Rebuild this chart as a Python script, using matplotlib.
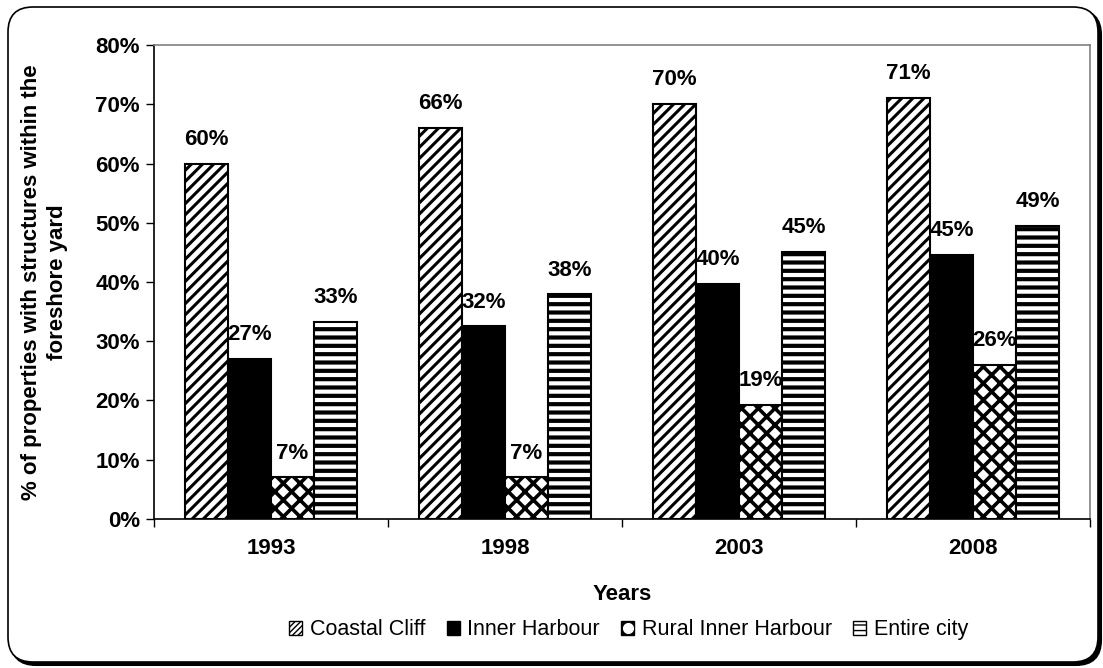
import numpy as np
import matplotlib
matplotlib.use("Agg")
import matplotlib.pyplot as plt
from matplotlib.patches import FancyBboxPatch, Patch
from matplotlib.lines import Line2D

plt.rcParams['font.family'] = ['Liberation Sans', 'DejaVu Sans']

# --- data ---
years = ["1993", "1998", "2003", "2008"]
coastal_cliff = [60, 66, 70, 71]
inner_harbour = [27, 32.5, 39.7, 44.6]
rural_inner = [7, 7, 19.2, 26]
entire_city = [33.2, 37.9, 45, 49.4]
label_cc = ["60%", "66%", "70%", "71%"]
label_ih = ["27%", "32%", "40%", "45%"]
label_ri = ["7%", "7%", "19%", "26%"]
label_ec = ["33%", "38%", "45%", "49%"]
series_names = ["Coastal Cliff", "Inner Harbour", "Rural Inner Harbour", "Entire city"]

W, H = 11.03, 6.68
fig = plt.figure(figsize=(W, H), dpi=100)

# outer rounded frame with shadow (in inches so corners stay round)
shadow = FancyBboxPatch((0.11, 0.03), 10.9, 6.55, boxstyle="round,pad=0,rounding_size=0.25",
                        transform=fig.dpi_scale_trans, facecolor="black", edgecolor="black",
                        linewidth=1.5, zorder=-2)
frame = FancyBboxPatch((0.08, 0.06), 10.9, 6.55, boxstyle="round,pad=0,rounding_size=0.25",
                       transform=fig.dpi_scale_trans, facecolor="white", edgecolor="black",
                       linewidth=1.2, zorder=-1)
fig.patches.extend([shadow, frame])

ax = fig.add_axes([0.1396, 0.2231, 0.8486, 0.7095])
ax.set_zorder(1)
ax.set_facecolor("none")

x = np.arange(len(years))
bw = 0.184
fs = 16

with plt.rc_context({'hatch.linewidth': 2.2}):
    b1 = ax.bar(x - 1.5 * bw, coastal_cliff, bw, facecolor="white", edgecolor="black",
                hatch="///", linewidth=1.5, zorder=3)
b2 = ax.bar(x - 0.5 * bw, inner_harbour, bw, facecolor="black", edgecolor="black",
            linewidth=1.5, zorder=3)
with plt.rc_context({'hatch.linewidth': 2.6}):
    b3 = ax.bar(x + 0.5 * bw, rural_inner, bw, facecolor="white", edgecolor="black",
                hatch="xx", linewidth=1.5, zorder=3)
with plt.rc_context({'hatch.linewidth': 3.0}):
    b4 = ax.bar(x + 1.5 * bw, entire_city, bw, facecolor="white", edgecolor="black",
                hatch="--", linewidth=1.5, zorder=3)

for bars, labels in [(b1, label_cc), (b2, label_ih), (b3, label_ri), (b4, label_ec)]:
    for rect, lab in zip(bars, labels):
        ax.annotate(lab, (rect.get_x() + rect.get_width() / 2, rect.get_height()),
                    xytext=(0, 10), textcoords="offset points", ha="center", va="bottom",
                    fontsize=fs, fontweight="bold")

ax.set_xlim(-0.5, 3.5)
ax.set_ylim(0, 80)
ax.set_yticks(np.arange(0, 81, 10))
ax.set_yticklabels([f"{v}%" for v in range(0, 81, 10)], fontsize=fs, fontweight="bold")
ax.set_xticks(x)
ax.set_xticklabels(years, fontsize=fs, fontweight="bold")
ax.set_xticks(np.arange(-0.5, 3.6, 1), minor=True)
ax.tick_params(axis="x", which="major", length=0, pad=14)
ax.tick_params(axis="x", which="minor", length=6, direction="out", width=1)
ax.tick_params(axis="y", length=6, direction="out", width=1, pad=4)

for s in ["top", "right"]:
    ax.spines[s].set_color("#808080")
    ax.spines[s].set_linewidth(1.2)
for s in ["left", "bottom"]:
    ax.spines[s].set_color("black")
    ax.spines[s].set_linewidth(1.2)

ax.set_xlabel("Years", fontsize=fs, fontweight="bold", labelpad=18)
ax.set_ylabel("% of properties with structures within the\nforeshore yard", fontsize=fs,
              fontweight="bold", labelpad=20, linespacing=1.3)

rural_handle = (Patch(facecolor="black", edgecolor="black"),
                Line2D([], [], marker="o", color="white", markersize=7, linestyle="None"))
handles = [
    Patch(facecolor="white", edgecolor="black", hatch="//////"),
    Patch(facecolor="black", edgecolor="black"),
    rural_handle,
    Patch(facecolor="white", edgecolor="black", hatch="---"),
]
fig.legend(handles, series_names, loc="center", bbox_to_anchor=(0.57, 0.057), ncol=4,
           frameon=False, fontsize=15.5, handlelength=0.6, handleheight=0.6,
           handletextpad=0.35, columnspacing=1.0)

fig.savefig("out.png", dpi=100)
